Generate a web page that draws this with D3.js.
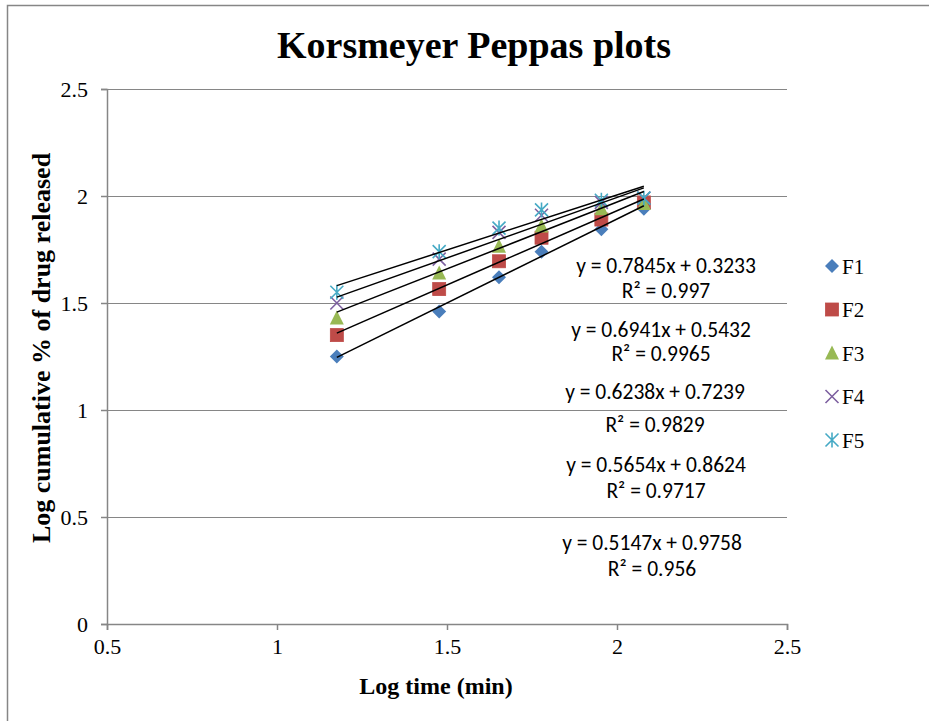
<!DOCTYPE html>
<html>
<head>
<meta charset="utf-8">
<script src="https://cdn.jsdelivr.net/npm/d3@7"></script>
<style>
  html, body { margin: 0; padding: 0; background: #fff; }
  svg { display: block; }
</style>
</head>
<body>
<svg id="chart" width="929" height="721"></svg>
<script>
// Log of sampling times (15, 30, 45, 60, 90, 120 min)
const logTime = [1.176, 1.477, 1.653, 1.778, 1.954, 2.079];

// Log cumulative % drug released per formulation
const seriesNames = ["F1", "F2", "F3", "F4", "F5"];
const F1 = [1.25, 1.46, 1.62, 1.74, 1.845, 1.94];
const F2 = [1.35, 1.565, 1.695, 1.805, 1.89, 1.97];
const F3 = [1.43, 1.64, 1.765, 1.86, 1.94, 1.965];
const F4 = [1.50, 1.705, 1.83, 1.91, 1.97, 1.99];
const F5 = [1.55, 1.74, 1.85, 1.935, 1.98, 1.99];
const seriesValues = [F1, F2, F3, F4, F5];

// Linear trendline fits
const slopes = [0.7845, 0.6941, 0.6238, 0.5654, 0.5147];
const intercepts = [0.3233, 0.5432, 0.7239, 0.8624, 0.9758];
const rSquared = ["0.997", "0.9965", "0.9829", "0.9717", "0.956"];

// Axis ticks
const xTicks = [0.5, 1, 1.5, 2, 2.5];
const yTicks = [0, 0.5, 1, 1.5, 2, 2.5];

const colors = ["#4A7EBB", "#BE4B48", "#98B954", "#7D60A0", "#46AAC5"];
const shapes = ["diamond", "square", "triangle", "cross", "star"];

const plot = { left: 107, right: 787, top: 89, bottom: 624 };
const svg = d3.select("#chart");

const x = d3.scaleLinear().domain([0.5, 2.5]).range([plot.left, plot.right]);
const y = d3.scaleLinear().domain([0, 2.5]).range([plot.bottom, plot.top]);

const grey = "#868686";
const serif = "'Liberation Serif', 'Times New Roman', serif";

// chart frame
svg.append("rect")
  .attr("x", 7.5).attr("y", 5.5)
  .attr("width", 1000).attr("height", 1000)
  .attr("fill", "#fff").attr("stroke", grey).attr("stroke-width", 1.5);

// horizontal gridlines
svg.append("g")
  .selectAll("line")
  .data(yTicks.filter(t => t > 0))
  .join("line")
  .attr("x1", plot.left).attr("x2", plot.right)
  .attr("y1", d => Math.round(y(d)) + 0.5).attr("y2", d => Math.round(y(d)) + 0.5)
  .attr("stroke", grey).attr("stroke-width", 1);

// axes
const xAxis = svg.append("g")
  .attr("transform", `translate(0,${plot.bottom})`)
  .call(d3.axisBottom(x).tickValues(xTicks).tickSize(6).tickPadding(8)
    .tickFormat(d3.format("")));
const yAxis = svg.append("g")
  .attr("transform", `translate(${plot.left},0)`)
  .call(d3.axisLeft(y).tickValues(yTicks).tickSize(6).tickPadding(13)
    .tickFormat(d3.format("")));

[xAxis, yAxis].forEach(g => {
  g.select(".domain").attr("stroke", grey).attr("stroke-width", 1.5);
  g.selectAll(".tick line").attr("stroke", grey).attr("stroke-width", 1.5);
  g.selectAll(".tick text")
    .attr("fill", "#000")
    .style("font-family", serif)
    .style("font-size", "22px");
});
yAxis.selectAll(".tick text").attr("dy", "0.35em");

// marker drawing
function marker(sel, shape, color) {
  const s = 7;
  if (shape === "diamond") {
    sel.append("path")
      .attr("d", `M0,${-s}L${s},0L0,${s}L${-s},0Z`)
      .attr("fill", color);
  } else if (shape === "square") {
    sel.append("rect")
      .attr("x", -6.5).attr("y", -6.5).attr("width", 13).attr("height", 13)
      .attr("fill", color).attr("stroke", color).attr("stroke-width", 0.8);
  } else if (shape === "triangle") {
    sel.append("path")
      .attr("d", `M0,-7.5L7,6.5L-7,6.5Z`)
      .attr("fill", color);
  } else if (shape === "cross") {
    sel.append("path")
      .attr("d", `M-6.5,-6.5L6.5,6.5M-6.5,6.5L6.5,-6.5`)
      .attr("stroke", color).attr("stroke-width", 1.6).attr("fill", "none");
  } else if (shape === "star") {
    sel.append("path")
      .attr("d", `M-6.5,-6.5L6.5,6.5M-6.5,6.5L6.5,-6.5M0,-7.5L0,7.5`)
      .attr("stroke", color).attr("stroke-width", 1.6).attr("fill", "none");
  }
}

// data points
seriesValues.forEach((vals, i) => {
  const g = svg.append("g").attr("class", "series-" + seriesNames[i]);
  vals.forEach((v, j) => {
    const m = g.append("g").attr("transform", `translate(${x(logTime[j])},${y(v)})`);
    marker(m, shapes[i], colors[i]);
  });
});

// trendlines over the markers
const xMin = d3.min(logTime), xMax = d3.max(logTime);
slopes.forEach((m, i) => {
  const b = intercepts[i];
  svg.append("line")
    .attr("x1", x(xMin)).attr("y1", y(m * xMin + b))
    .attr("x2", x(xMax)).attr("y2", y(m * xMax + b))
    .attr("stroke", "#000").attr("stroke-width", 1.5);
});

// trendline equation labels: [centre x, first baseline, second baseline] in pixels
const labelLayout = [
  [666, 273, 298],
  [661, 337, 361],
  [655, 399, 432],
  [656, 472, 498],
  [652, 550, 576]
];
const labels = svg.append("g")
  .style("font-family", "Carlito, Calibri, Lato, sans-serif")
  .style("font-size", "21.5px")
  .attr("text-anchor", "middle")
  .attr("fill", "#000");
slopes.forEach((m, i) => {
  const [cx, b1, b2] = labelLayout[i];
  labels.append("text").attr("x", cx).attr("y", b1)
    .text(`y = ${m}x + ${intercepts[i]}`);
  labels.append("text").attr("x", cx).attr("y", b2)
    .text(`R² = ${rSquared[i]}`);
});

// legend
const legend = svg.append("g");
seriesNames.forEach((name, i) => {
  const cy = 266 + i * 43.5;
  const g = legend.append("g").attr("transform", `translate(832,${cy})`);
  marker(g, shapes[i], colors[i]);
  legend.append("text")
    .attr("x", 842).attr("y", cy + 7.5)
    .style("font-family", serif)
    .style("font-size", "21px")
    .text(name);
});

// titles
svg.append("text")
  .attr("x", 474).attr("y", 58)
  .attr("text-anchor", "middle")
  .style("font-family", serif).style("font-weight", "bold").style("font-size", "38px")
  .text("Korsmeyer Peppas plots");

svg.append("text")
  .attr("x", 436).attr("y", 694)
  .attr("text-anchor", "middle")
  .style("font-family", serif).style("font-weight", "bold").style("font-size", "24px")
  .text("Log time (min)");

svg.append("text")
  .attr("transform", "translate(50,348) rotate(-90)")
  .attr("text-anchor", "middle")
  .style("font-family", serif).style("font-weight", "bold").style("font-size", "26px")
  .text("Log cumulative % of drug released");
</script>
</body>
</html>
